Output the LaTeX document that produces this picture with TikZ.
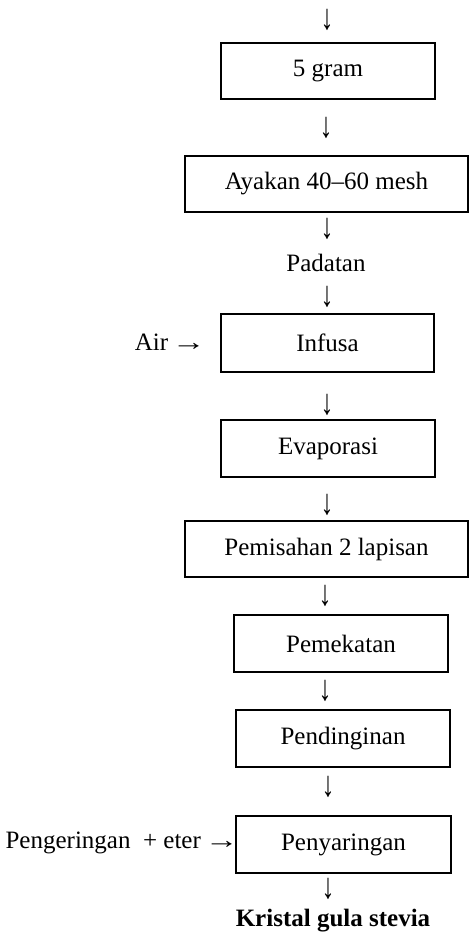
\documentclass[tikz,border=0pt]{standalone}
\usepackage{fontspec}
\usepackage{graphicx}
\setmainfont{Liberation Serif}
\newcommand\dnarrow{\scalebox{0.72}[1]{\fontsize{18}{18}\selectfont ↓}}
\newcommand\rtarrow{\scalebox{1.35}[1]{→}}
\begin{document}
\begin{tikzpicture}[x=0.5pt,y=-0.5pt,
  every node/.style={font=\fontsize{12.5}{15}\selectfont, inner sep=0pt},
  box/.style={draw=black, line width=0.75pt, rectangle, align=center},
  arr/.style={anchor=center},
  lbl/.style={anchor=center}]
\useasboundingbox (0,0) rectangle (469,935);
\node[arr] (a0) at (327,20) {\dnarrow};
\node[box, minimum width=107pt, minimum height=28pt] (b1) at (328,71) {5 gram};
\node[arr] (a1) at (326,127.5) {\dnarrow};
\node[box, minimum width=141.5pt, minimum height=28pt] (b2) at (326.5,184) {Ayakan 40–60 mesh};
\node[arr] (a2) at (327,229) {\dnarrow};
\node[lbl] (pad) at (326,263) {Padatan};
\node[arr] (a3) at (327,297) {\dnarrow};
\node[box, minimum width=106.5pt, minimum height=29pt] (b3) at (327.5,343) {Infusa};
\node[anchor=east] (air) at (206,342) {Air\hspace{1.8pt}\rtarrow};
\node[arr] (a4) at (327,405) {\dnarrow};
\node[box, minimum width=107pt, minimum height=28.5pt] (b4) at (328,448.5) {Evaporasi};
\node[arr] (a5) at (327,505) {\dnarrow};
\node[box, minimum width=141.5pt, minimum height=28pt] (b5) at (326.5,549) {Pemisahan 2 lapisan};
\node[arr] (a6) at (325,596) {\dnarrow};
\node[box, minimum width=107pt, minimum height=28.5pt] (b6) at (341,643.5) {Pemekatan};
\node[arr] (a7) at (325,691) {\dnarrow};
\node[box, minimum width=107pt, minimum height=28.5pt] (b7) at (343,738.5) {Pendinginan};
\node[arr] (a8) at (328,787) {\dnarrow};
\node[box, minimum width=107.5pt, minimum height=28.5pt] (b8) at (343.5,844.5) {Penyaringan};
\node[anchor=east] (peng) at (239,843) {Pengeringan\ \ + eter\hspace{2pt}\rtarrow};
\node[arr] (a9) at (328,889) {\dnarrow};
\node[lbl, font=\fontsize{12.5}{15}\selectfont\bfseries] (kri) at (333,921) {Kristal gula stevia};
\end{tikzpicture}
\end{document}
